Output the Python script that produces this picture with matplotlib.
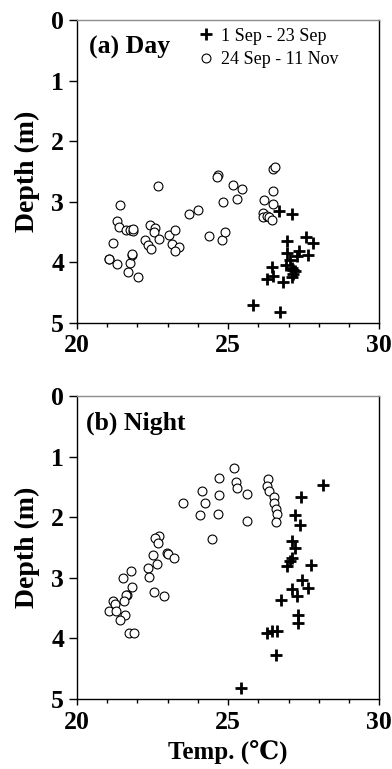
import numpy as np
import matplotlib
matplotlib.use("Agg")
import matplotlib.pyplot as plt
from matplotlib.ticker import MultipleLocator

plt.rcParams['font.family'] = ['Liberation Serif', 'DejaVu Serif']

# (a) Day
day_early_t = [26.70, 27.11, 26.96, 27.58, 27.80, 26.96, 27.36, 27.27, 27.65, 26.92, 27.10,
               26.44, 26.48, 26.28, 26.81, 27.14, 27.21, 27.16, 27.11, 25.84, 26.72, 27.05]
day_early_d = [3.15, 3.21, 3.65, 3.58, 3.68, 3.85, 3.82, 3.90, 3.89, 4.04, 4.09,
               4.08, 4.23, 4.28, 4.33, 4.13, 4.15, 4.19, 4.24, 4.70, 4.82, 3.97]
day_late_t = [22.70, 24.66, 24.62, 25.18, 25.45, 26.48, 26.55, 26.48, 24.85, 25.31, 26.19,
              21.43, 21.33, 21.39, 21.62, 21.76, 21.85, 21.87, 21.21, 21.06, 21.08, 21.32,
              21.76, 21.83, 21.84, 21.71, 22.03, 22.42, 22.60, 22.57, 22.71, 22.27, 22.35,
              22.44, 23.06, 23.26, 23.15, 23.38, 23.26, 23.70, 24.01, 24.38, 24.79, 24.91,
              26.48, 26.17, 26.17, 26.28, 26.37, 26.46]
day_late_d = [2.75, 2.56, 2.60, 2.73, 2.80, 2.46, 2.43, 2.83, 3.00, 2.95, 2.97,
              3.05, 3.32, 3.42, 3.47, 3.47, 3.48, 3.45, 3.68, 3.94, 3.95, 4.03,
              4.01, 3.89, 3.87, 4.17, 4.24, 3.39, 3.43, 3.50, 3.61, 3.64, 3.71,
              3.78, 3.55, 3.47, 3.70, 3.75, 3.82, 3.20, 3.14, 3.57, 3.63, 3.51,
              3.04, 3.19, 3.25, 3.23, 3.26, 3.30]

# (b) Night
night_early_t = [28.15, 27.40, 27.21, 27.38, 27.10, 27.20, 27.12, 27.06, 26.96, 27.73, 27.43,
                 27.64, 27.12, 27.27, 26.76, 27.32, 27.31, 26.28, 26.44, 26.63, 26.57, 25.42]
night_early_d = [1.47, 1.67, 1.96, 2.12, 2.39, 2.50, 2.68, 2.73, 2.81, 2.79, 3.04,
                 3.16, 3.18, 3.30, 3.36, 3.62, 3.74, 3.91, 3.88, 3.88, 4.27, 4.82]
night_late_t = [25.19, 24.71, 25.26, 25.29, 25.62, 24.15, 24.24, 24.69, 23.50, 24.07, 24.68,
                25.62, 24.48, 26.33, 26.29, 26.34, 26.52, 26.52, 26.59, 26.63, 26.58,
                22.71, 22.58, 22.70, 22.51, 22.97, 23.01, 23.23, 22.64, 22.37, 21.80,
                21.52, 22.40, 21.83, 22.56, 22.89, 21.67, 21.63, 21.21, 21.27, 21.57,
                21.08, 21.30, 21.60, 21.43, 21.74, 21.88]
night_late_d = [1.18, 1.35, 1.42, 1.52, 1.61, 1.56, 1.76, 1.64, 1.77, 1.96, 1.94,
                2.07, 2.36, 1.37, 1.48, 1.57, 1.66, 1.77, 1.86, 1.95, 2.08,
                2.31, 2.34, 2.42, 2.63, 2.59, 2.61, 2.68, 2.77, 2.83, 2.89,
                3.00, 2.98, 3.15, 3.24, 3.30, 3.28, 3.29, 3.39, 3.43, 3.38,
                3.54, 3.55, 3.62, 3.69, 3.91, 3.91]

fig = plt.figure(figsize=(3.92, 7.69), dpi=100)
ax1 = fig.add_axes([0.1957, 0.5804, 0.772, 0.3936])
ax2 = fig.add_axes([0.1957, 0.0910, 0.772, 0.3940])

panels = [
    (ax1, day_early_t, day_early_d, day_late_t, day_late_d, '(a) Day', 20.41),
    (ax2, night_early_t, night_early_d, night_late_t, night_late_d, '(b) Night', 20.30),
]

for ax, et, ed, lt, ld, label, lx in panels:
    ax.plot(lt, ld, 'o', mfc='white', mec='black', mew=0.8, ms=6.4,
            label='24 Sep - 11 Nov', zorder=2)
    ax.plot(et, ed, '+', color='black', mew=2.0, ms=9,
            label='1 Sep - 23 Sep', zorder=3)
    ax.set_xlim(20, 30)
    ax.set_ylim(5, 0)
    ax.xaxis.set_major_locator(MultipleLocator(5))
    ax.xaxis.set_minor_locator(MultipleLocator(1))
    ax.yaxis.set_major_locator(MultipleLocator(1))
    ax.tick_params(axis='x', which='major', direction='out', length=4.5, width=1,
                   labelsize=18.5, pad=4)
    ax.tick_params(axis='x', which='minor', direction='out', length=3, width=1)
    ax.tick_params(axis='y', direction='out', length=6, width=1, labelsize=18.5, pad=3)
    for t in ax.get_xticklabels() + ax.get_yticklabels():
        t.set_fontweight('bold')
    for side in ['left', 'bottom', 'right']:
        ax.spines[side].set_color('black')
        ax.spines[side].set_linewidth(1)
    ax.spines['top'].set_color('#8c8c8c')
    ax.spines['top'].set_linewidth(1)
    ax.set_ylabel('Depth (m)', fontsize=20, fontweight='bold', labelpad=8)
    ax.text(lx, 0.55, label, fontsize=18.5, fontweight='bold', va='baseline', ha='left')

handles, labels = ax1.get_legend_handles_labels()
ax1.legend(handles[::-1], labels[::-1], loc='upper left', bbox_to_anchor=(0.36, 1.01),
           frameon=False, fontsize=13, handlelength=1.0, handletextpad=0.35,
           labelspacing=0.35, borderaxespad=0.2)

ax2.set_xlabel('Temp. (\u2103)', fontsize=18, fontweight='bold', labelpad=5)

fig.savefig('out.png', dpi=100)
